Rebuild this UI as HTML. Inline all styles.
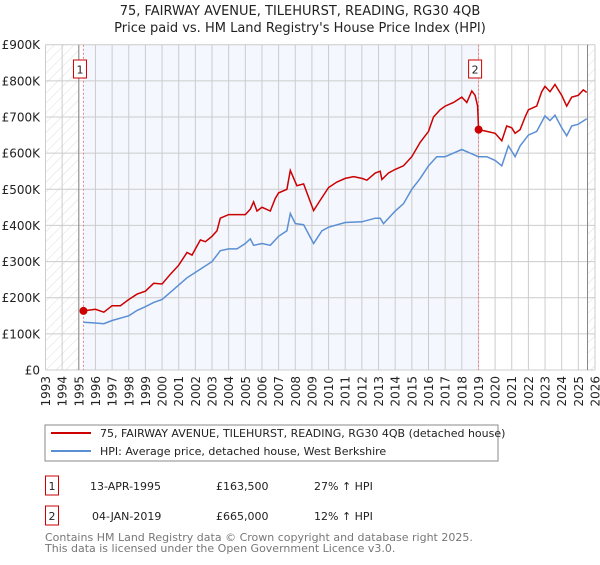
<!DOCTYPE html>
<html><head><meta charset="utf-8"><style>
body{margin:0;background:#fff;font-family:"Liberation Sans","DejaVu Sans",sans-serif;}
svg text{font-family:"DejaVu Sans","Liberation Sans",sans-serif;}
</style></head><body>
<svg id="c" width="600" height="560" xmlns="http://www.w3.org/2000/svg">
<defs><pattern id="h" width="7" height="7" patternUnits="userSpaceOnUse" patternTransform="rotate(45)"><line x1="0" y1="0" x2="0" y2="7" stroke="#d6d6d6" stroke-width="0.8"/></pattern></defs>
<text x="300" y="15" text-anchor="middle" font-size="13" fill="#222">75, FAIRWAY AVENUE, TILEHURST, READING, RG30 4QB</text>
<text x="300" y="32" text-anchor="middle" font-size="13" fill="#222">Price paid vs. HM Land Registry's House Price Index (HPI)</text>
<g id="plot"></g>
<rect x="45" y="425" width="453" height="36" fill="#fff" stroke="#888"/>
<line x1="51" y1="433" x2="91" y2="433" stroke="#cc0000" stroke-width="2"/>
<text x="100" y="437" font-size="11" fill="#222">75, FAIRWAY AVENUE, TILEHURST, READING, RG30 4QB (detached house)</text>
<line x1="51" y1="451" x2="91" y2="451" stroke="#5b8fd4" stroke-width="2"/>
<text x="100" y="455" font-size="11" fill="#222">HPI: Average price, detached house, West Berkshire</text>
<rect x="45.5" y="476" width="13" height="19" fill="#fff" stroke="#cc0000"/>
<text x="52" y="490" text-anchor="middle" font-size="11" fill="#222">1</text>
<text x="90" y="490" font-size="11" fill="#222">13-APR-1995</text>
<text x="216" y="490" font-size="11" fill="#222">£163,500</text>
<text x="314" y="490" font-size="11" fill="#222">27% ↑ HPI</text>
<rect x="45.5" y="506" width="13" height="19" fill="#fff" stroke="#cc0000"/>
<text x="52" y="520" text-anchor="middle" font-size="11" fill="#222">2</text>
<text x="92" y="520" font-size="11" fill="#222">04-JAN-2019</text>
<text x="216" y="520" font-size="11" fill="#222">£665,000</text>
<text x="314" y="520" font-size="11" fill="#222">12% ↑ HPI</text>
<text x="45" y="541" font-size="11" fill="#777">Contains HM Land Registry data © Crown copyright and database right 2025.</text>
<text x="45" y="552" font-size="11" fill="#777">This data is licensed under the Open Government Licence v3.0.</text>
</svg>
<script>
const yTicks=[0,100,200,300,400,500,600,700,800,900];
const yTickLabels=["£0","£100K","£200K","£300K","£400K","£500K","£600K","£700K","£800K","£900K"];
const years=[1993,1994,1995,1996,1997,1998,1999,2000,2001,2002,2003,2004,2005,2006,2007,2008,2009,2010,2011,2012,2013,2014,2015,2016,2017,2018,2019,2020,2021,2022,2023,2024,2025,2026];
const saleDates=[1995.28,2019.01];
const salePrices=[163.5,665];
const hpiT=[1995.28,1996,1996.5,1997,1998,1998.5,1999,1999.5,2000,2000.5,2001,2001.5,2002,2002.5,2003,2003.5,2004,2004.5,2005,2005.3,2005.5,2006,2006.5,2007,2007.5,2007.7,2008,2008.5,2009.1,2009.6,2010,2011,2012,2012.8,2013.1,2013.3,2014,2014.5,2015,2015.5,2016,2016.5,2017,2017.5,2018,2018.5,2019,2019.5,2020,2020.4,2020.8,2021.2,2021.5,2022,2022.5,2023,2023.3,2023.6,2024,2024.3,2024.6,2025,2025.5];
const hpiV=[132,130,128,137,150,165,175,187,195,215,235,255,270,285,300,330,335,335,350,363,345,350,345,370,385,433,405,402,350,385,395,408,410,420,420,405,440,460,500,530,565,590,590,600,610,600,590,590,580,565,620,590,620,650,660,703,690,705,670,648,675,680,695];
const priceT=[1995.28,1996,1996.5,1997,1997.5,1998,1998.5,1999,1999.5,2000,2000.5,2001,2001.5,2001.8,2002,2002.3,2002.6,2003,2003.3,2003.5,2004,2005,2005.3,2005.5,2005.7,2006,2006.5,2006.8,2007,2007.5,2007.7,2008.1,2008.5,2009.1,2009.5,2010,2010.5,2011,2011.5,2012,2012.3,2012.8,2013.1,2013.2,2013.6,2014,2014.5,2015,2015.5,2016,2016.3,2016.7,2017,2017.5,2018,2018.3,2018.6,2018.8,2018.95,2019.01,2019.5,2020,2020.4,2020.7,2021,2021.2,2021.5,2021.8,2022,2022.5,2022.8,2023,2023.3,2023.6,2024,2024.3,2024.6,2025,2025.3,2025.5];
const priceV=[163.5,168,160,178,178,195,210,218,240,238,265,290,325,318,335,360,355,370,385,420,430,430,445,465,440,450,440,475,490,500,552,510,515,441,470,505,520,530,535,530,525,545,550,527,545,555,565,590,630,660,700,720,730,740,755,740,772,760,730,665,660,655,634,675,670,655,665,700,720,730,770,785,770,790,760,730,755,760,775,768];
const L=45.5,R=595,T=44.7,B=370;
const X=y=>L+(y-1993)*(R-L)/33;
const Y=v=>B-v*(B-T)/900;
const NS="http://www.w3.org/2000/svg";
const g=document.getElementById('plot');
function mk(tag,attrs,parent){const e=document.createElementNS(NS,tag);for(const k in attrs)e.setAttribute(k,attrs[k]);(parent||g).appendChild(e);return e;}
let e;
e=mk('rect',{x:L,y:T,width:R-L,height:B-T,fill:'#fff'});


e=mk('rect',{x:X(saleDates[0]),y:T,width:X(saleDates[1])-X(saleDates[0]),height:B-T,fill:'#f4f7fe'});


e=mk('rect',{x:L,y:T,width:X(1995)-L,height:B-T,fill:'url(#h)'});


e=mk('rect',{x:X(2025.55),y:T,width:R-X(2025.55),height:B-T,fill:'url(#h)'});


years.forEach(yr=>{
  e=mk('line',{x1:X(yr),x2:X(yr),y1:T,y2:B,stroke:'#ccc','stroke-width':1});
  
  
  e=mk('text',{x:0,y:0,transform:`translate(${X(yr)+4.5},376) rotate(-90)`,'text-anchor':'end','font-size':'12',fill:'#222'});
  e.textContent=yr;
  
  
});
yTicks.forEach((v,i)=>{
  e=mk('line',{x1:L,x2:R,y1:Y(v),y2:Y(v),stroke:'#ccc','stroke-width':1});
  
  
  e=mk('text',{x:40,y:Y(v)+4.5,'text-anchor':'end','font-size':'12',fill:'#222'});
  e.textContent=yTickLabels[i];
  
  
});
e=mk('line',{x1:X(1995),x2:X(1995),y1:T,y2:B,stroke:'#888'});


e=mk('line',{x1:X(2025.55),x2:X(2025.55),y1:T,y2:B,stroke:'#888'});


saleDates.forEach((d,i)=>{
  e=mk('line',{x1:X(d),x2:X(d),y1:T,y2:B,stroke:'#f08080','stroke-dasharray':'2,2'});
  
  
});
const pts=(t,v)=>t.map((x,i)=>X(x).toFixed(1)+','+Y(v[i]).toFixed(1)).join(' ');
e=mk('polyline',{points:pts(hpiT,hpiV),fill:'none',stroke:'#5b8fd4','stroke-width':1.5});


e=mk('polyline',{points:pts(priceT,priceV),fill:'none',stroke:'#cc0000','stroke-width':1.5});


saleDates.forEach((d,i)=>{
  e=mk('circle',{cx:X(d),cy:Y(salePrices[i]),r:4,fill:'#cc0000'});
  
  
  e=mk('rect',{x:X(d)-10,y:60,width:13,height:18,fill:'#fff',stroke:'#cc0000'});
  
  
  e=mk('text',{x:X(d)-3.5,y:73.5,'text-anchor':'middle','font-size':'11',fill:'#222'});
  e.textContent=String(i+1);
  
  
});
</script>
</body></html>
